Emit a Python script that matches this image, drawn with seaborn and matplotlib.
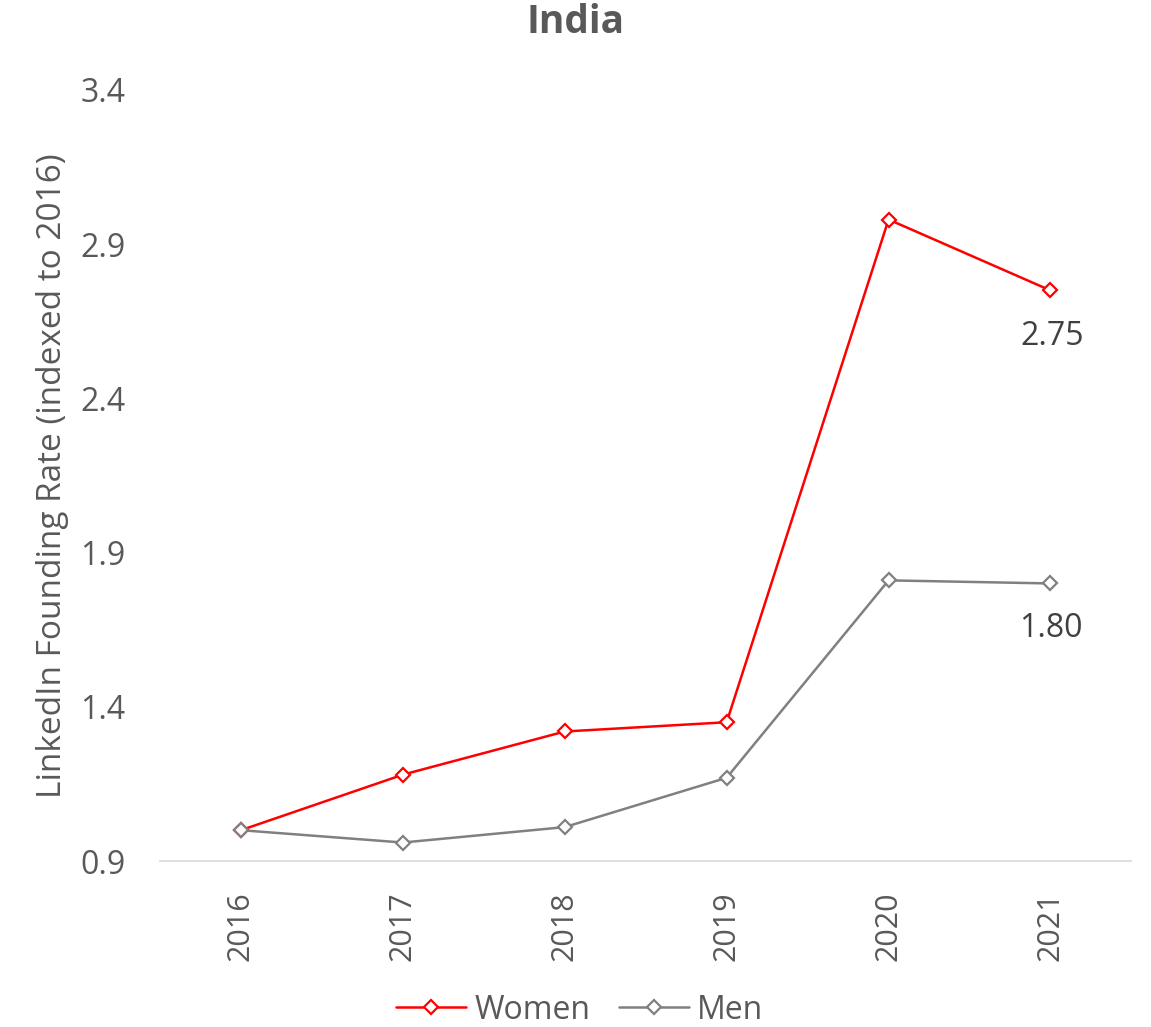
import matplotlib
matplotlib.use("Agg")
import matplotlib.pyplot as plt
import seaborn as sns
import pandas as pd

years = ["2016", "2017", "2018", "2019", "2020", "2021"]
women = [1.00, 1.18, 1.32, 1.35, 2.98, 2.75]
men = [1.00, 0.96, 1.01, 1.17, 1.81, 1.80]
series_names = ["Women", "Men"]
colors = {"Women": "#FF0000", "Men": "#808080"}
yticks = [0.9, 1.4, 1.9, 2.4, 2.9, 3.4]
title = "India"
ylabel = "LinkedIn Founding Rate (indexed to 2016)"

sns.set_theme(style="white")
plt.rcParams["font.family"] = ["Open Sans", "DejaVu Sans"]

data = {"Women": women, "Men": men}

fig = plt.figure(figsize=(11.51, 10.27), dpi=100)
ax = fig.add_axes([0.139, 0.1616, 0.844, 0.7508])

for name in series_names:
    df = pd.DataFrame({"Year": years, "Value": data[name]})
    sns.lineplot(data=df, x="Year", y="Value", color=colors[name], marker="D",
                 markersize=7.5, markerfacecolor="white", markeredgecolor=colors[name],
                 markeredgewidth=1.6, linewidth=1.8, ax=ax, label=name)

ax.set_xlim(-0.5, len(years) - 0.5)
ax.set_ylim(0.9, 3.4)
ax.set_yticks(yticks)
ax.set_yticklabels([f"{t:.1f}" for t in yticks])
ax.tick_params(axis="y", labelsize=23, labelcolor="#595959", length=0, pad=25)
ax.tick_params(axis="x", labelsize=22, labelcolor="#595959", length=0, pad=22, rotation=90)
ax.set_xlabel("")
ax.set_ylabel(ylabel, fontsize=24, color="#595959", labelpad=8)
for s in ["top", "right", "left"]:
    ax.spines[s].set_visible(False)
ax.spines["bottom"].set_color("#D9D9D9")
ax.spines["bottom"].set_linewidth(1.2)
ax.grid(False)

ax.text(len(years) - 1 + 0.01, women[-1] - 0.15, f"{women[-1]:.2f}", ha="center", va="center",
        fontsize=23, color="#404040")
ax.text(len(years) - 1, men[-1] - 0.145, f"{men[-1]:.2f}", ha="center", va="center",
        fontsize=23, color="#404040")

fig.suptitle(title, x=0.5, y=0.997, va="top", fontsize=28, fontweight="bold", color="#595959")

handles, labels = ax.get_legend_handles_labels()
ax.legend(handles, labels, loc="lower center", bbox_to_anchor=(0.432, -0.252),
          ncol=2, frameon=False, fontsize=23, labelcolor="#595959",
          handlelength=2.2, columnspacing=0.9, handletextpad=0.25)

fig.savefig("out.png", dpi=100, facecolor="white")
